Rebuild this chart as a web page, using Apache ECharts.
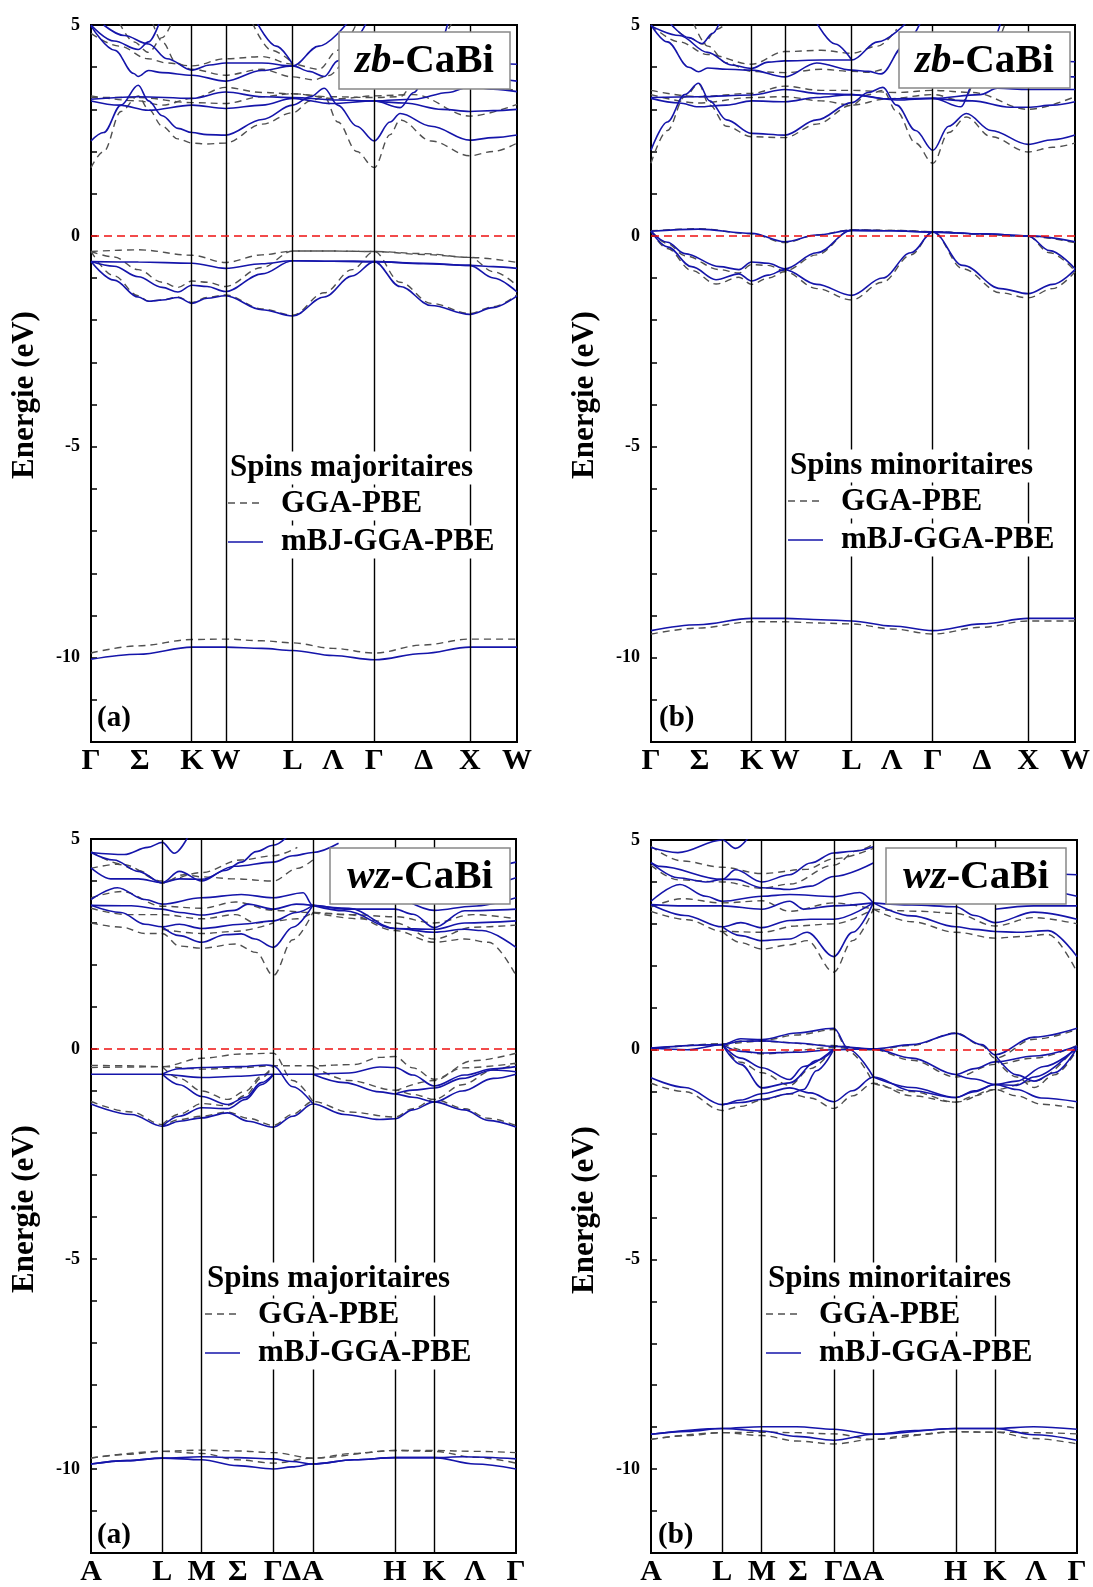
<!DOCTYPE html>
<html><head><meta charset="utf-8">
<script src="https://cdn.jsdelivr.net/npm/echarts@6/dist/echarts.min.js"></script>
<style>html,body{margin:0;padding:0;background:#fff}#c{width:1093px;height:1587px}</style>
</head><body><div id="c"></div>
<script>
// ---------- k-paths and tick labels ----------
const zbPathK = [0, 1.064, 1.416, 2.124, 2.984, 3.99, 4.487];           // Γ K W L Γ X W
const zbTickK = [0, 0.515, 1.064, 1.416, 2.124, 2.548, 2.984, 3.503, 3.99, 4.487];
const zbTickLabels = ['Γ','Σ','K','W','L','Λ','Γ','Δ','X','W'];
const wzPathK = [0, 0.69, 1.073, 1.767, 2.15, 2.947, 3.327, 4.12];     // A L M Γ A H K Γ
const wzTickK = [0, 0.69, 1.073, 1.423, 1.767, 1.945, 2.15, 2.947, 3.327, 3.723, 4.12];
const wzTickLabels = ['A','L','M','Σ','Γ','Δ','A','H','K','Λ','Γ'];
const yTicks = [5, 0, -5, -10];

// ---------- (a) zb-CaBi, majority spins ----------
const zbUpMbj = [
 [[0,-10.04],[0.5,-9.92],[1.064,-9.75],[1.416,-9.75],[1.8,-9.78],[2.124,-9.83],[2.55,-9.95],[2.984,-10.05],[3.5,-9.9],[3.99,-9.75],[4.487,-9.75]],
 [[0,-0.61],[0.5,-0.62],[1.064,-0.65],[1.416,-0.77],[1.8,-0.66],[2.124,-0.59],[2.55,-0.6],[2.984,-0.61],[3.5,-0.65],[3.99,-0.70],[4.24,-0.73],[4.487,-0.77]],
 [[0,-0.61],[0.243,-0.72],[0.497,-0.97],[0.75,-1.22],[0.915,-1.33],[1.064,-1.17],[1.223,-1.2],[1.416,-1.32],[1.8,-0.9],[2.124,-0.59],[2.55,-0.6],[2.984,-0.61],[3.5,-0.66],[3.99,-0.70],[4.24,-1.0],[4.487,-1.33]],
 [[0,-0.61],[0.243,-1.05],[0.497,-1.45],[0.606,-1.55],[0.75,-1.52],[0.915,-1.46],[1.064,-1.6],[1.223,-1.48],[1.416,-1.42],[1.8,-1.75],[2.124,-1.9],[2.457,-1.45],[2.75,-0.95],[2.984,-0.61],[3.256,-1.2],[3.583,-1.65],[3.99,-1.86],[4.236,-1.7],[4.487,-1.42]],
 [[0,2.25],[0.134,2.45],[0.316,3.1],[0.497,3.57],[0.606,3.2],[0.751,2.85],[0.915,2.55],[1.064,2.45],[1.223,2.4],[1.416,2.39],[1.804,2.76],[2.124,3.10],[2.312,3.3],[2.457,3.5],[2.6,3.1],[2.8,2.6],[2.984,2.25],[3.15,2.7],[3.256,2.9],[3.583,2.6],[3.99,2.27],[4.236,2.33],[4.487,2.39]],
 [[0,3.2],[0.3,3.1],[0.606,2.98],[1.064,3.1],[1.416,3.02],[1.804,3.1],[2.124,3.26],[2.53,3.14],[2.984,3.2],[3.256,3.04],[3.4,3.4],[3.58,4.1],[3.76,5.05]],
 [[0,3.24],[0.497,3.3],[1.064,3.26],[1.416,3.41],[1.804,3.3],[2.124,3.28],[2.6,3.22],[2.984,3.2],[3.401,3.24],[3.764,3.4],[3.99,3.54],[4.236,3.48],[4.487,3.42]],
 [[2.984,3.2],[3.3,3.15],[3.7,3.0],[3.99,2.95],[4.236,2.97],[4.487,3.0]],
 [[0,4.98],[0.25,4.4],[0.45,3.85],[0.497,3.78],[0.606,3.92],[0.75,3.87],[1.064,3.81],[1.416,3.67],[1.8,3.92],[2.124,4.03],[2.3,3.9],[2.457,3.78],[2.6,4.15],[2.75,4.6],[2.9,5.05]],
 [[0,5.0],[0.243,4.62],[0.497,4.42],[0.606,4.6],[0.72,5.05]],
 [[0.134,5.0],[0.35,4.75],[0.606,4.55],[0.8,4.2],[1.064,3.93],[1.25,4.05],[1.416,4.1],[1.8,4.1],[2.124,4.03],[2.4,4.5],[2.7,5.05]],
 [[1.75,5.05],[1.95,4.5],[2.124,4.07]],
 [[3.99,3.75],[4.24,3.72],[4.487,3.67]],
 [[3.8,4.6],[3.99,4.1],[4.24,4.08],[4.487,4.07]]
];
const zbUpGga = [
 [[0,-9.89],[0.5,-9.72],[1.064,-9.57],[1.416,-9.56],[1.8,-9.6],[2.124,-9.65],[2.55,-9.78],[2.984,-9.89],[3.5,-9.7],[3.99,-9.56],[4.487,-9.56]],
 [[0,-0.37],[0.5,-0.33],[1.064,-0.46],[1.416,-0.63],[1.8,-0.45],[2.124,-0.36],[2.55,-0.36],[2.984,-0.37],[3.5,-0.42],[3.99,-0.51],[4.487,-0.63]],
 [[0,-0.37],[0.243,-0.5],[0.497,-0.8],[0.75,-1.1],[0.915,-1.22],[1.064,-1.07],[1.223,-1.1],[1.416,-1.2],[1.8,-0.75],[2.124,-0.36],[2.55,-0.36],[2.984,-0.37],[3.5,-0.44],[3.99,-0.51],[4.24,-0.85],[4.487,-1.18]],
 [[0,-0.37],[0.243,-0.95],[0.497,-1.42],[0.606,-1.55],[0.75,-1.52],[0.915,-1.45],[1.064,-1.58],[1.223,-1.46],[1.416,-1.4],[1.8,-1.73],[2.124,-1.88],[2.457,-1.35],[2.75,-0.8],[2.984,-0.37],[3.256,-1.1],[3.583,-1.6],[3.99,-1.84],[4.236,-1.68],[4.487,-1.4]],
 [[0,1.62],[0.134,2.0],[0.316,2.95],[0.497,3.32],[0.606,3.0],[0.751,2.6],[0.915,2.3],[1.064,2.2],[1.223,2.18],[1.416,2.2],[1.804,2.65],[2.124,2.92],[2.312,3.2],[2.457,3.3],[2.6,2.7],[2.8,2.0],[2.984,1.62],[3.15,2.4],[3.256,2.75],[3.583,2.25],[3.99,1.9],[4.236,2.0],[4.487,2.2]],
 [[0,3.32],[0.5,3.2],[0.75,3.1],[1.064,3.26],[1.416,3.52],[1.8,3.4],[2.124,3.37],[2.6,3.25],[2.984,3.32],[3.4,3.35],[3.99,2.84],[4.487,3.12]],
 [[0,3.28],[0.5,3.28],[1.064,3.16],[1.416,3.14],[1.8,3.3],[2.124,3.37],[2.5,3.3],[2.984,3.28],[3.256,3.3],[3.45,3.8],[3.65,4.6],[3.8,5.05]],
 [[0,4.8],[0.3,4.5],[0.6,4.2],[0.8,4.1],[1.064,4.03],[1.416,4.2],[1.8,4.25],[2.124,4.07],[2.4,3.95],[2.6,4.4],[2.8,5.05]],
 [[0.65,5.05],[0.75,4.6],[0.9,4.1],[1.064,3.95],[1.416,3.81],[1.8,3.95],[2.124,3.77],[2.35,3.7],[2.5,3.8],[2.7,4.3]],
 [[0.3,5.05],[0.45,4.6],[0.606,4.35],[0.75,4.7],[0.85,5.05]],
 [[1.7,5.05],[1.9,4.4],[2.124,4.1]],
 [[3.99,3.55],[4.24,3.5],[4.487,3.45]]
];

// ---------- (b) zb-CaBi, minority spins ----------
const zbDnMbj = [
 [[0,-9.36],[0.5,-9.22],[1.064,-9.07],[1.416,-9.07],[1.8,-9.1],[2.124,-9.13],[2.55,-9.25],[2.984,-9.36],[3.5,-9.2],[3.99,-9.07],[4.487,-9.07]],
 [[0,0.11],[0.5,0.16],[1.064,0.06],[1.416,-0.14],[1.75,0.02],[2.124,0.13],[2.55,0.12],[2.984,0.09],[3.5,0.05],[3.99,0.0],[4.487,-0.14]],
 [[0,0.11],[0.173,-0.15],[0.357,-0.42],[0.725,-0.73],[0.93,-0.8],[1.064,-0.62],[1.24,-0.65],[1.416,-0.78],[1.754,-0.4],[2.124,0.13],[2.55,0.12],[2.984,0.09],[3.5,0.05],[3.99,0.0],[4.219,-0.35],[4.487,-0.78]],
 [[0,0.11],[0.173,-0.26],[0.43,-0.73],[0.688,-1.04],[0.93,-0.9],[1.064,-1.07],[1.24,-0.93],[1.416,-0.8],[1.754,-1.15],[2.124,-1.41],[2.45,-1.0],[2.75,-0.4],[2.984,0.09],[3.3,-0.7],[3.7,-1.25],[3.99,-1.37],[4.25,-1.15],[4.487,-0.8]],
 [[0,2.03],[0.173,2.7],[0.357,3.35],[0.504,3.62],[0.62,3.2],[0.8,2.75],[1.064,2.43],[1.416,2.39],[1.754,2.75],[2.124,3.16],[2.3,3.4],[2.453,3.52],[2.6,3.1],[2.8,2.5],[2.984,2.03],[3.15,2.6],[3.336,2.9],[3.6,2.5],[3.99,2.17],[4.25,2.28],[4.487,2.39]],
 [[0,3.26],[0.3,3.15],[0.504,3.06],[0.8,3.1],[1.064,3.2],[1.416,3.18],[1.754,3.28],[2.124,3.35],[2.5,3.25],[2.984,3.26],[3.28,3.06],[3.41,3.6],[3.55,4.3],[3.7,5.05]],
 [[0,3.28],[0.5,3.3],[1.064,3.34],[1.416,3.47],[1.8,3.37],[2.124,3.35],[2.6,3.22],[2.984,3.26],[3.483,3.35],[3.667,3.5],[3.99,3.47],[4.487,3.47]],
 [[2.984,3.26],[3.4,3.2],[3.8,3.05],[3.99,3.05],[4.25,3.1],[4.487,3.18]],
 [[0,5.0],[0.173,4.6],[0.4,4.0],[0.504,3.89],[0.6,3.98],[0.8,3.95],[1.064,3.93],[1.416,3.77],[1.754,4.1],[2.124,3.93],[2.3,3.9],[2.435,3.84],[2.674,4.5],[2.85,5.05]],
 [[0.2,5.05],[0.4,4.7],[0.541,4.56],[0.65,4.8],[0.725,5.05]],
 [[0,4.98],[0.3,4.75],[0.6,4.35],[0.85,4.05],[1.064,3.97],[1.24,4.12],[1.416,4.15],[1.8,4.17],[2.124,4.17],[2.4,4.6],[2.7,5.05]],
 [[1.754,5.05],[1.95,4.55],[2.124,4.17]],
 [[3.99,3.8],[4.24,3.78],[4.487,3.77]],
 [[3.8,4.6],[3.99,4.15],[4.24,4.14],[4.487,4.13]]
];
const zbDnGga = [
 [[0,-9.44],[0.5,-9.3],[1.064,-9.15],[1.416,-9.15],[1.8,-9.18],[2.124,-9.2],[2.55,-9.32],[2.984,-9.44],[3.5,-9.28],[3.99,-9.13],[4.487,-9.13]],
 [[0,0.12],[0.5,0.17],[1.064,0.05],[1.416,-0.16],[1.75,0.02],[2.124,0.14],[2.55,0.13],[2.984,0.1],[3.5,0.04],[3.99,-0.01],[4.487,-0.16]],
 [[0,0.12],[0.173,-0.18],[0.357,-0.47],[0.725,-0.8],[0.93,-0.88],[1.064,-0.68],[1.24,-0.7],[1.416,-0.83],[1.754,-0.45],[2.124,0.14],[2.55,0.13],[2.984,0.1],[3.5,0.04],[3.99,-0.01],[4.219,-0.4],[4.487,-0.83]],
 [[0,0.12],[0.173,-0.3],[0.43,-0.82],[0.688,-1.14],[0.93,-0.98],[1.064,-1.15],[1.24,-1.0],[1.416,-0.85],[1.754,-1.25],[2.124,-1.52],[2.45,-1.1],[2.75,-0.45],[2.984,0.1],[3.3,-0.78],[3.7,-1.35],[3.99,-1.47],[4.25,-1.25],[4.487,-0.85]],
 [[0,1.72],[0.173,2.5],[0.357,3.3],[0.504,3.6],[0.62,3.1],[0.8,2.6],[1.064,2.35],[1.416,2.33],[1.754,2.65],[2.124,3.1],[2.3,3.35],[2.453,3.45],[2.6,2.95],[2.8,2.2],[2.984,1.72],[3.15,2.45],[3.336,2.82],[3.6,2.35],[3.99,1.99],[4.25,2.1],[4.487,2.2]],
 [[0,3.45],[0.5,3.3],[1.064,3.38],[1.416,3.55],[1.8,3.45],[2.124,3.45],[2.6,3.4],[2.984,3.45],[3.4,3.4],[3.99,3.0],[4.487,3.3]],
 [[0,3.35],[0.5,3.15],[1.064,3.28],[1.416,3.3],[1.8,3.2],[2.124,3.1],[2.5,3.25],[2.984,3.35],[3.3,3.2],[3.45,3.7],[3.6,4.4],[3.75,5.05]],
 [[0,5.0],[0.3,4.6],[0.6,4.3],[1.064,4.07],[1.416,4.37],[1.8,4.4],[2.124,4.33],[2.4,4.5],[2.6,4.9]],
 [[0.45,5.05],[0.6,4.5],[0.8,4.1],[1.064,3.9],[1.416,3.87],[1.8,3.95],[2.124,3.9],[2.3,3.88],[2.45,3.95]],
 [[0.2,5.05],[0.4,4.7],[0.55,4.55],[0.7,4.9],[0.8,5.05]]
];

// ---------- (a) wz-CaBi, majority spins ----------
const wzUpMbj = [
 [[0,-9.88],[0.35,-9.8],[0.69,-9.74],[1.073,-9.78],[1.42,-9.92],[1.767,-10.0],[1.95,-9.95],[2.15,-9.88],[2.55,-9.78],[2.947,-9.73],[3.327,-9.73],[3.72,-9.88],[4.12,-10.0]],
 [[0,-9.88],[0.35,-9.8],[0.69,-9.74],[1.073,-9.71],[1.42,-9.73],[1.767,-9.76],[1.95,-9.82],[2.15,-9.88],[2.55,-9.78],[2.947,-9.73],[3.327,-9.73],[3.6,-9.71],[4.12,-9.76]],
 [[0,-0.6],[0.35,-0.6],[0.69,-0.6],[1.073,-0.68],[1.42,-0.65],[1.767,-0.6],[2.15,-0.6],[2.5,-0.57],[2.8,-0.43],[2.947,-0.44],[3.12,-0.62],[3.327,-0.88],[3.62,-0.62],[3.9,-0.47],[4.12,-0.42]],
 [[0.69,-0.6],[0.857,-0.47],[1.073,-0.44],[1.457,-0.42],[1.7,-0.38],[1.767,-0.4],[1.957,-0.9],[2.15,-1.3]],
 [[0.69,-0.6],[0.857,-0.85],[1.073,-1.13],[1.323,-1.32],[1.5,-1.15],[1.65,-0.8],[1.767,-0.6]],
 [[0,-1.31],[0.39,-1.56],[0.69,-1.84],[0.857,-1.72],[1.073,-1.64],[1.323,-1.52],[1.523,-1.72],[1.767,-1.86],[1.957,-1.6],[2.15,-1.31],[2.457,-1.56],[2.8,-1.68],[2.947,-1.66],[3.12,-1.45],[3.327,-1.26],[3.62,-1.45],[3.85,-1.7],[4.12,-1.86]],
 [[0.69,-1.84],[0.857,-1.6],[1.073,-1.4],[1.323,-1.42],[1.5,-1.2],[1.65,-0.85],[1.767,-0.62]],
 [[2.15,-0.6],[2.457,-0.8],[2.8,-1.02],[2.947,-1.07],[3.12,-1.15],[3.327,-1.26],[3.6,-1.0],[3.9,-0.7],[4.12,-0.6]],
 [[2.947,-1.07],[3.12,-0.98],[3.327,-0.93],[3.6,-0.7],[3.9,-0.5],[4.12,-0.54]],
 [[0,4.68],[0.323,4.63],[0.55,4.8],[0.69,4.92],[0.807,4.66],[0.94,5.05]],
 [[0,4.68],[0.223,4.5],[0.457,4.23],[0.69,3.96],[0.857,4.05],[1.073,4.04],[1.39,4.35],[1.767,4.45],[1.957,4.6],[2.15,4.68],[2.4,4.9]],
 [[0,4.31],[0.19,4.05],[0.457,4.05],[0.69,3.96],[0.857,4.23],[1.073,4.0],[1.3,4.25],[1.457,4.45],[1.6,4.7],[1.767,4.85],[1.9,5.05]],
 [[0,3.56],[0.257,3.84],[0.523,3.56],[0.69,3.45],[1.073,3.6],[1.457,3.68],[1.767,3.6],[2.057,3.72],[2.15,3.42],[2.457,3.33],[2.947,3.33],[3.123,3.21],[3.327,2.89],[3.623,3.29],[4.12,3.33]],
 [[0,3.42],[0.39,3.41],[0.69,3.33],[0.857,3.25],[1.073,3.19],[1.39,3.3],[1.523,3.45],[1.767,3.33],[1.99,3.45],[2.15,3.42]],
 [[0,3.42],[0.29,3.25],[0.523,2.97],[0.69,2.91],[0.857,2.97],[1.073,2.87],[1.457,2.97],[1.767,3.05],[1.99,3.25],[2.15,3.42]],
 [[0.69,2.91],[0.857,2.7],[1.073,2.54],[1.3,2.72],[1.457,2.74],[1.59,2.62],[1.767,2.42],[1.957,2.9],[2.15,3.42]],
 [[2.15,3.42],[2.457,3.29],[2.947,2.87],[3.327,2.78],[3.623,2.85],[3.79,2.82],[4.12,2.42]],
 [[2.15,3.42],[2.5,3.35],[2.947,2.87],[3.327,2.85],[3.623,3.0],[4.12,3.05]],
 [[3.327,3.9],[3.7,4.3],[4.12,4.45]],
 [[3.327,3.55],[3.623,3.8],[4.12,4.08]],
 [[2.947,3.7],[3.327,3.3],[3.7,3.4],[4.12,3.6]]
];
const wzUpGga = [
 [[0,-9.74],[0.35,-9.65],[0.69,-9.58],[1.073,-9.55],[1.42,-9.57],[1.767,-9.61],[2.15,-9.74],[2.55,-9.63],[2.947,-9.56],[3.327,-9.56],[3.72,-9.58],[4.12,-9.61]],
 [[0,-9.74],[0.69,-9.58],[1.073,-9.63],[1.42,-9.78],[1.767,-9.86],[2.15,-9.74],[2.947,-9.56],[3.327,-9.58],[3.72,-9.72],[4.12,-9.86]],
 [[0,-0.39],[0.35,-0.4],[0.69,-0.42],[1.073,-0.48],[1.42,-0.45],[1.767,-0.4],[2.15,-0.4],[2.55,-0.37],[2.8,-0.2],[2.947,-0.18],[3.12,-0.45],[3.327,-0.72],[3.7,-0.28],[4.12,-0.1]],
 [[0,-0.44],[0.35,-0.43],[0.69,-0.42],[1.073,-0.22],[1.457,-0.12],[1.767,-0.1],[1.957,-0.75],[2.15,-1.25]],
 [[0.69,-0.42],[0.857,-0.7],[1.073,-1.0],[1.323,-1.2],[1.5,-1.0],[1.65,-0.65],[1.767,-0.4]],
 [[0,-1.25],[0.39,-1.5],[0.69,-1.8],[0.857,-1.68],[1.073,-1.6],[1.323,-1.5],[1.523,-1.65],[1.767,-1.82],[1.957,-1.55],[2.15,-1.25],[2.5,-1.5],[2.947,-1.62],[3.12,-1.42],[3.327,-1.2],[3.62,-1.42],[3.85,-1.65],[4.12,-1.82]],
 [[2.15,-0.4],[2.5,-0.75],[2.947,-0.98],[3.12,-1.08],[3.327,-1.2],[3.6,-0.85],[3.9,-0.5],[4.12,-0.34]],
 [[0.69,-1.8],[0.857,-1.55],[1.073,-1.3],[1.323,-1.35],[1.5,-1.1],[1.65,-0.7],[1.767,-0.4]],
 [[2.947,-1.0],[3.327,-0.75],[3.6,-0.45],[4.12,-0.34]],
 [[0,4.3],[0.257,4.4],[0.457,4.25],[0.69,3.95],[0.9,4.15],[1.073,4.1],[1.39,4.05],[1.767,4.0],[2.0,4.3],[2.15,4.5]],
 [[0,3.6],[0.3,3.75],[0.69,3.4],[1.073,3.35],[1.4,3.5],[1.767,3.3],[2.15,3.25],[2.5,3.2],[2.947,3.15],[3.327,3.0],[3.7,3.2],[4.12,3.1]],
 [[0,3.35],[0.35,3.2],[0.69,3.2],[1.073,3.1],[1.4,3.2],[1.6,3.0],[1.767,3.05],[2.0,3.1],[2.15,3.25]],
 [[0,3.0],[0.3,2.9],[0.523,2.75],[0.69,2.75],[0.857,2.45],[1.073,2.4],[1.4,2.5],[1.6,2.3],[1.767,1.75],[1.957,2.6],[2.15,3.25]],
 [[0.69,2.85],[1.073,2.75],[1.4,2.8],[1.767,3.0]],
 [[2.15,3.25],[2.5,3.2],[2.947,2.82],[3.327,2.54],[3.623,2.62],[3.857,2.54],[4.12,1.75]],
 [[2.15,3.25],[2.6,3.1],[2.947,3.0],[3.327,2.62],[3.7,2.9],[4.12,2.95]],
 [[0,4.7],[0.3,4.4],[0.69,4.0],[1.073,4.2],[1.45,4.5],[1.767,4.6],[2.0,4.8]]
];

// ---------- (b) wz-CaBi, minority spins ----------
const wzDnMbj = [
 [[0,-9.17],[0.35,-9.1],[0.69,-9.03],[1.073,-8.99],[1.408,-8.99],[1.767,-9.05],[2.15,-9.17],[2.55,-9.08],[2.947,-9.03],[3.327,-9.03],[3.7,-8.99],[4.12,-9.05]],
 [[0,-9.17],[0.69,-9.03],[1.073,-9.09],[1.408,-9.22],[1.767,-9.31],[2.15,-9.17],[2.947,-9.03],[3.327,-9.03],[3.7,-9.18],[4.12,-9.31]],
 [[0,0.04],[0.35,0.0],[0.69,0.12],[0.868,0.26],[1.073,0.24],[1.408,0.4],[1.767,0.51],[1.915,0.0],[2.15,-0.65]],
 [[0,0.04],[0.69,0.12],[0.868,0.2],[1.073,0.21],[1.408,0.16],[1.767,0.08],[2.15,0.02],[2.523,0.12],[2.947,0.39],[3.198,0.12],[3.327,-0.12],[3.705,0.3],[4.12,0.51]],
 [[0.69,0.12],[0.868,-0.04],[1.073,-0.08],[1.408,-0.06],[1.767,0.0],[2.15,0.02],[2.523,-0.2],[2.947,-0.59],[3.13,-0.45],[3.327,-0.29],[3.705,-0.15],[4.12,0.08]],
 [[0.69,0.12],[0.868,-0.2],[1.073,-0.43],[1.341,-0.71],[1.476,-0.4],[1.767,0.02]],
 [[0.69,0.12],[0.868,-0.35],[1.073,-0.91],[1.341,-0.79],[1.611,-0.25],[1.767,0.0]],
 [[2.15,-0.65],[2.523,-0.9],[2.947,-1.14],[3.13,-1.0],[3.327,-0.83],[3.536,-0.85],[3.705,-0.65],[4.12,0.08]],
 [[0,-0.67],[0.328,-0.9],[0.69,-1.31],[0.868,-1.2],[1.073,-1.05],[1.341,-0.91],[1.543,-1.03],[1.767,-1.24],[1.948,-0.98],[2.15,-0.65],[2.523,-0.98],[2.947,-1.14],[3.13,-0.98],[3.327,-0.83],[3.536,-0.95],[3.772,-1.15],[4.12,-1.24]],
 [[0.69,-1.31],[0.868,-1.26],[1.073,-1.18],[1.341,-1.05],[1.476,-0.95],[1.6,-0.5],[1.767,0.0]],
 [[2.947,-0.59],[3.13,-0.7],[3.327,-0.83],[3.536,-0.75],[3.8,-0.4],[4.12,0.04]],
 [[3.327,-0.12],[3.536,-0.6],[3.705,-0.75],[3.9,-0.55],[4.12,0.04]],
 [[0,4.82],[0.26,4.7],[0.69,5.0],[0.818,4.8],[0.94,5.05]],
 [[0,4.46],[0.26,4.1],[0.53,4.0],[0.69,4.06],[0.818,4.29],[1.073,4.0],[1.341,4.17],[1.543,4.45],[1.767,4.69],[1.95,4.73],[2.15,4.84]],
 [[0,4.46],[0.09,4.37],[0.69,4.06],[0.818,4.06],[1.073,3.86],[1.341,3.82],[1.543,3.9],[1.767,4.13],[2.15,4.45]],
 [[0,3.54],[0.28,3.94],[0.53,3.66],[0.69,3.54],[1.073,3.66],[1.341,3.7],[1.767,3.65],[2.02,3.75],[2.15,3.5]],
 [[0,3.46],[0.328,3.43],[0.69,3.43],[1.073,3.35],[1.341,3.54],[1.476,3.35],[1.767,3.43],[2.15,3.5]],
 [[0,3.46],[0.328,3.2],[0.69,2.93],[0.868,3.03],[1.073,2.91],[1.341,3.08],[1.543,3.11],[1.767,3.11],[2.15,3.5]],
 [[0.69,2.93],[0.868,2.72],[1.073,2.6],[1.341,2.64],[1.51,2.8],[1.767,2.22],[1.95,2.8],[2.15,3.5]],
 [[2.15,3.5],[2.523,3.19],[2.947,2.93],[3.13,2.87],[3.327,2.82],[3.536,2.8],[3.84,2.84],[4.12,2.22]],
 [[2.15,3.5],[2.523,3.45],[2.947,3.41],[3.13,3.2],[3.327,3.03],[3.705,3.28],[4.12,3.11]],
 [[3.327,3.35],[3.7,3.43],[4.12,3.43]],
 [[2.5,4.6],[3.0,4.3],[3.7,4.2],[4.12,4.17]],
 [[3.5,4.0],[4.12,3.66]]
];
const wzDnGga = [
 [[0,-9.29],[0.35,-9.2],[0.69,-9.13],[1.073,-9.12],[1.408,-9.13],[1.767,-9.16],[2.15,-9.29],[2.55,-9.18],[2.947,-9.11],[3.327,-9.12],[3.7,-9.13],[4.12,-9.16]],
 [[0,-9.29],[0.69,-9.13],[1.073,-9.2],[1.408,-9.33],[1.767,-9.4],[2.15,-9.29],[2.947,-9.11],[3.327,-9.12],[3.7,-9.27],[4.12,-9.4]],
 [[0,0.02],[0.69,0.14],[0.868,0.2],[1.073,0.22],[1.408,0.35],[1.767,0.48],[1.915,-0.05],[2.15,-0.8]],
 [[0,0.02],[0.69,0.14],[1.073,0.2],[1.767,0.1],[2.15,0.0],[2.523,0.1],[2.947,0.4],[3.198,0.1],[3.327,-0.2],[3.705,0.25],[4.12,0.48]],
 [[0.69,0.14],[1.073,-0.1],[1.767,0.05],[2.15,0.0],[2.523,-0.25],[2.947,-0.65],[3.327,-0.35],[3.705,-0.2],[4.12,0.1]],
 [[0.69,0.14],[0.868,-0.3],[1.073,-0.55],[1.341,-0.85],[1.543,-0.45],[1.767,0.05]],
 [[0,-0.8],[0.328,-1.0],[0.69,-1.45],[0.868,-1.35],[1.073,-1.2],[1.341,-1.05],[1.543,-1.15],[1.767,-1.4],[1.948,-1.1],[2.15,-0.8],[2.523,-1.1],[2.947,-1.25],[3.13,-1.1],[3.327,-0.95],[3.536,-1.1],[3.772,-1.3],[4.12,-1.4]],
 [[2.15,-0.8],[2.523,-1.0],[2.947,-1.25],[3.327,-0.95],[3.705,-0.75],[4.12,0.1]],
 [[3.327,-0.2],[3.536,-0.65],[3.705,-0.9],[3.9,-0.6],[4.12,0.0]],
 [[0,4.4],[0.26,4.05],[0.69,4.0],[1.073,3.85],[1.341,3.95],[1.767,4.4],[2.0,4.75],[2.15,4.9]],
 [[0,3.4],[0.3,3.6],[0.69,3.5],[1.073,3.55],[1.341,3.3],[1.767,3.5],[2.15,3.35]],
 [[0,3.3],[0.35,3.1],[0.69,2.82],[1.073,2.8],[1.4,2.95],[1.767,3.0],[2.15,3.35]],
 [[0.69,2.82],[0.868,2.55],[1.073,2.4],[1.341,2.5],[1.51,2.6],[1.767,1.85],[1.95,2.6],[2.15,3.35]],
 [[2.15,3.35],[2.523,3.05],[2.947,2.8],[3.327,2.66],[3.6,2.7],[3.84,2.75],[4.12,1.85]],
 [[2.15,3.35],[2.6,3.3],[2.947,3.25],[3.327,2.95],[3.7,3.15],[4.12,3.0]],
 [[0,4.85],[0.3,4.5],[0.69,4.35],[1.073,4.2],[1.5,4.3],[1.767,4.55],[2.15,4.8]]
];

// ---------- layout ----------
const SERIF = '"Liberation Serif","Times New Roman",serif';
const BLUE = '#1515aa', GRAY = '#505050';
const panels = [
 {grid:{left:91,top:25,width:426,height:717}, path:zbPathK, ticks:zbTickK, labels:zbTickLabels, mbj:zbUpMbj, gga:zbUpGga,
  title:{x:339,y:32,w:171,h:57,it:'zb'}, spin:'Spins majoritaires', leg:{x:228,y:468}, tag:'(a)', tagPos:[97,719], ytitle:[25,395]},
 {grid:{left:651,top:25,width:426,height:717}, path:zbPathK, ticks:zbTickK, labels:zbTickLabels, mbj:zbDnMbj, gga:zbDnGga,
  title:{x:899,y:32,w:171,h:56,it:'zb'}, spin:'Spins minoritaires', leg:{x:788,y:466}, tag:'(b)', tagPos:[659,719], ytitle:[585,395]},
 {grid:{left:91,top:839,width:425,height:717}, path:wzPathK, ticks:wzTickK, labels:wzTickLabels, mbj:wzUpMbj, gga:wzUpGga,
  title:{x:330,y:848,w:180,h:56,it:'wz'}, spin:'Spins majoritaires', leg:{x:205,y:1279}, tag:'(a)', tagPos:[97,1536], ytitle:[25,1209]},
 {grid:{left:651,top:840,width:426,height:718}, path:wzPathK, ticks:wzTickK, labels:wzTickLabels, mbj:wzDnMbj, gga:wzDnGga,
  title:{x:886,y:848,w:180,h:56,it:'wz'}, spin:'Spins minoritaires', leg:{x:766,y:1279}, tag:'(b)', tagPos:[658,1536], ytitle:[585,1210]}
];

const grids=[], xAxes=[], yAxes=[], series=[], graphics=[];
function nearest(arr, v){let b=0;for(let i=1;i<arr.length;i++) if(Math.abs(arr[i]-v)<Math.abs(arr[b]-v)) b=i;return b;}

panels.forEach((p, gi) => {
  grids.push(Object.assign({show:true, borderColor:'#000', borderWidth:2, backgroundColor:'transparent'}, p.grid));
  xAxes.push({type:'value', gridIndex:gi, min:0, max:p.path[p.path.length-1],
    axisLine:{show:false}, axisTick:{show:false}, splitLine:{show:false},
    axisLabel:{customValues:p.ticks, formatter:(v)=>p.labels[nearest(p.ticks, v)],
      fontFamily:SERIF, fontWeight:'bold', fontSize:30, color:'#000', margin:4}});
  yAxes.push({type:'value', gridIndex:gi, min:-12, max:5, interval:1,
    axisLine:{show:false}, splitLine:{show:false},
    axisTick:{show:true, inside:true, length:6, lineStyle:{color:'#000', width:1.5}},
    axisLabel:{formatter:(v)=> yTicks.indexOf(v)>=0 ? String(v) : '', fontFamily:SERIF, fontWeight:'bold', fontSize:18, color:'#000', margin:11}});
  series.push({type:'line', xAxisIndex:gi, yAxisIndex:gi, data:[], silent:true, z:1, animation:false,
    markLine:{symbol:['none','none'], silent:true, animation:false, label:{show:false},
      lineStyle:{color:'#000', width:1.4, type:'solid'},
      data:p.path.slice(1,-1).map(k=>({xAxis:k}))}});
  p.gga.forEach(b => series.push({type:'line', xAxisIndex:gi, yAxisIndex:gi, data:b, smooth:0.35, smoothMonotone:'x',
    showSymbol:false, symbol:'none', silent:true, animation:false, z:3,
    lineStyle:{color:GRAY, width:1.4, type:[7,5]}}));
  p.mbj.forEach(b => series.push({type:'line', xAxisIndex:gi, yAxisIndex:gi, data:b, smooth:0.35, smoothMonotone:'x',
    showSymbol:false, symbol:'none', silent:true, animation:false, z:4,
    lineStyle:{color:BLUE, width:1.6, type:'solid'}}));
  series.push({type:'line', xAxisIndex:gi, yAxisIndex:gi, data:[], silent:true, z:6, animation:false,
    markLine:{symbol:['none','none'], silent:true, animation:false, label:{show:false},
      lineStyle:{color:'#ee1111', width:1.6, type:[8,5]}, data:[{yAxis:0}]}});

  const t=p.title;
  graphics.push({type:'rect', z:20, shape:{x:t.x,y:t.y,width:t.w,height:t.h}, style:{fill:'#fff', stroke:'#888', lineWidth:1.5}});
  graphics.push({type:'text', z:21, x:t.x+t.w/2, y:t.y+t.h/2+1, style:{text:'{i|'+t.it+'}{n|-CaBi}', align:'center', verticalAlign:'middle',
    rich:{i:{fontFamily:SERIF, fontStyle:'italic', fontWeight:'bold', fontSize:41, fill:'#000'},
          n:{fontFamily:SERIF, fontWeight:'bold', fontSize:41, fill:'#000'}}}});
  const L=p.leg;
  const txt = (s, x, y) => ({type:'text', z:21, x, y, style:{text:s, fontFamily:SERIF, fontWeight:'bold', fontSize:31, fill:'#000',
    align:'left', verticalAlign:'middle', backgroundColor:'#fff', padding:[1,2]}});
  graphics.push(txt(p.spin, L.x, L.y));
  graphics.push({type:'line', z:21, shape:{x1:L.x, y1:L.y+35, x2:L.x+35, y2:L.y+35}, style:{stroke:GRAY, lineWidth:1.4, lineDash:[7,5]}});
  graphics.push(txt('GGA-PBE', L.x+51, L.y+36));
  graphics.push({type:'line', z:21, shape:{x1:L.x, y1:L.y+74, x2:L.x+35, y2:L.y+74}, style:{stroke:BLUE, lineWidth:1.6}});
  graphics.push(txt('mBJ-GGA-PBE', L.x+51, L.y+74));
  graphics.push({type:'text', z:21, x:p.tagPos[0], y:p.tagPos[1], style:{text:p.tag, fontFamily:SERIF, fontWeight:'bold', fontSize:29, fill:'#000',
    align:'left', verticalAlign:'middle'}});
  graphics.push({type:'text', z:21, x:p.ytitle[0], y:p.ytitle[1], rotation:Math.PI/2, style:{text:'Energie (eV)', fontFamily:SERIF, fontWeight:'bold', fontSize:31, fill:'#000',
    align:'center', verticalAlign:'middle'}});
});

const chart = echarts.init(document.getElementById('c'), null, {renderer:'canvas'});
chart.setOption({animation:false, backgroundColor:'#fff', grid:grids, xAxis:xAxes, yAxis:yAxes, series:series, graphic:graphics});
</script></body></html>
